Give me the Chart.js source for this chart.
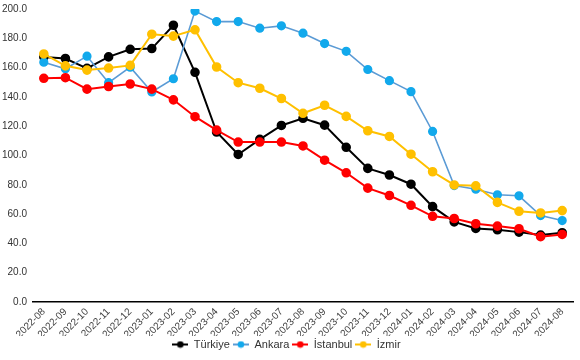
<!DOCTYPE html>
<html>
<head>
<meta charset="utf-8">
<script src="https://cdn.jsdelivr.net/npm/chart.js@4"></script>
<style>
    html, body { margin: 0; padding: 0; background: #fff; }
    #wrap { width: 580px; height: 360px; }
</style>
</head>
<body>
<div id="wrap"><canvas id="chart"></canvas></div>
<script>
const months = ['2022-08', '2022-09', '2022-10', '2022-11', '2022-12', '2023-01', '2023-02', '2023-03',
    '2023-04', '2023-05', '2023-06', '2023-07', '2023-08', '2023-09', '2023-10', '2023-11', '2023-12',
    '2024-01', '2024-02', '2024-03', '2024-04', '2024-05', '2024-06', '2024-07', '2024-08']
const turkiye = [167.3, 166.2, 159.5, 167.3, 172.5, 173.0, 188.9, 156.8, 116.0, 100.7, 111.0, 120.5, 125.4,
    120.7, 105.6, 91.2, 86.7, 80.4, 65.1, 54.7, 50.2, 49.3, 47.7, 45.7, 47.3]
const ankara = [163.7, 159.2, 167.8, 149.7, 160.3, 143.4, 152.4, 198.6, 191.4, 191.4, 186.9, 188.5, 183.5,
    176.4, 171.1, 158.7, 151.1, 143.6, 116.4, 79.5, 77.0, 73.2, 72.5, 59.0, 55.6]
const istanbul = [152.7, 153.1, 145.3, 147.1, 148.8, 145.3, 138.0, 126.5, 117.3, 109.2, 109.2, 109.2, 106.5,
    96.8, 88.2, 77.7, 72.7, 66.0, 58.5, 57.0, 53.4, 51.8, 50.0, 44.6, 46.1]
const izmir = [169.3, 161.2, 158.3, 159.7, 161.5, 182.8, 181.5, 185.8, 160.4, 149.7, 145.9, 138.9, 128.8,
    134.3, 126.7, 116.9, 113.0, 100.9, 88.9, 79.9, 79.3, 68.0, 61.9, 60.8, 62.4]
const seriesNames = ['Türkiye', 'Ankara', 'İstanbul', 'İzmir']
const yTicks = [0, 20, 40, 60, 80, 100, 120, 140, 160, 180, 200]

const lineColors = ['#000000', '#5B9BD5', '#FF0000', '#FFC000']
const dotColors = ['#000000', '#12A9EC', '#FF0000', '#FFC000']

// legend icon: short line with a dot in the middle
function legendIcon(lineColor, dotColor) {
    const c = document.createElement('canvas')
    c.width = 16
    c.height = 8
    const g = c.getContext('2d')
    g.strokeStyle = lineColor
    g.lineWidth = 2
    g.beginPath()
    g.moveTo(0, 4)
    g.lineTo(16, 4)
    g.stroke()
    g.fillStyle = dotColor
    g.beginPath()
    g.arc(8, 4, 3.3, 0, Math.PI * 2)
    g.fill()
    return c
}

const allData = [turkiye, ankara, istanbul, izmir]
const datasets = allData.map((values, index) => {
    return {
        label: seriesNames[index],
        data: values,
        borderColor: lineColors[index],
        backgroundColor: dotColors[index],
        pointBackgroundColor: dotColors[index],
        pointBorderColor: dotColors[index],
        borderWidth: index === 1 ? 1.6 : 2,
        pointRadius: 3.8,
        pointHoverRadius: 3.8,
        tension: 0,
        fill: false,
        order: allData.length - 1 - index,
        pointStyle: 'circle',
        icon: legendIcon(lineColors[index], dotColors[index])
    }
})

const tickFont = { family: 'Liberation Sans, Arial, sans-serif', size: 10 }

new Chart(document.getElementById('chart').getContext('2d'), {
    type: 'line',
    data: { labels: months, datasets: datasets },
    options: {
        responsive: true,
        maintainAspectRatio: false,
        animation: false,
        layout: { padding: { top: 0, right: 7, left: 0, bottom: 0 } },
        plugins: {
            tooltip: { enabled: false },
            legend: {
                position: 'bottom',
                labels: {
                    usePointStyle: true,
                    pointStyleWidth: 16,
                    boxHeight: 8,
                    padding: 3,
                    color: '#404040',
                    font: { family: 'Liberation Sans, Arial, sans-serif', size: 11 },
                    sort: (a, b) => a.datasetIndex - b.datasetIndex,
                    generateLabels: chart => chart.data.datasets.map((ds, i) => ({
                        text: ds.label,
                        fillStyle: ds.borderColor,
                        strokeStyle: ds.borderColor,
                        lineWidth: 0,
                        pointStyle: ds.icon,
                        fontColor: '#333333',
                        hidden: false,
                        datasetIndex: i
                    }))
                }
            }
        },
        scales: {
            x: {
                offset: true,
                grid: { display: false, drawTicks: false },
                border: { display: true, color: '#000000', width: 1.5 },
                ticks: {
                    color: '#404040',
                    font: tickFont,
                    minRotation: 45,
                    maxRotation: 45,
                    autoSkip: false,
                    padding: 4
                },
                afterFit: scale => { scale.height = 34 }
            },
            y: {
                min: 0,
                max: 200,
                afterBuildTicks: scale => { scale.ticks = yTicks.map(v => ({ value: v })) },
                grid: { display: false, drawTicks: false },
                border: { display: false },
                ticks: {
                    color: '#333333',
                    font: tickFont,
                    padding: 6,
                    callback: v => Number(v).toFixed(1)
                },
                afterFit: scale => {
                    scale.width = 33
                    scale.paddingTop = 9
                }
            }
        }
    }
})
</script>
</body>
</html>
